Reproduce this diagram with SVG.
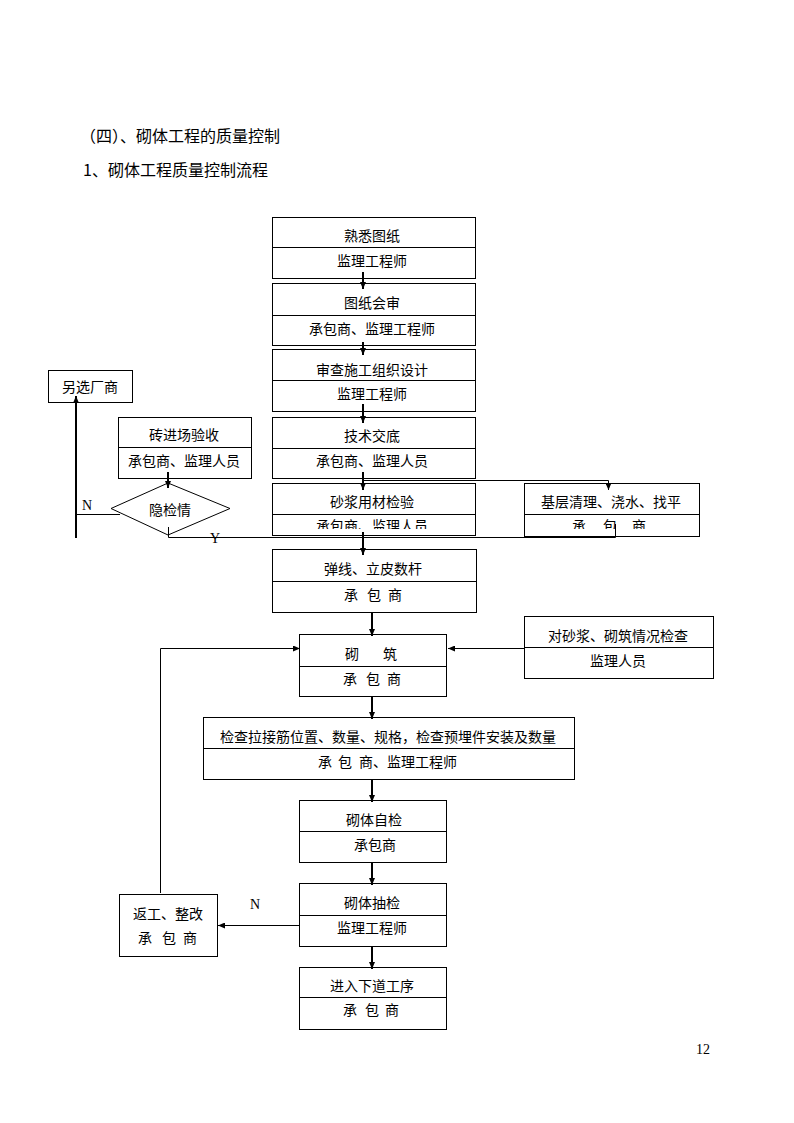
<svg xmlns="http://www.w3.org/2000/svg" width="794" height="1123" viewBox="0 0 794 1123">
<style>
.box{fill:#fff;stroke:#000;stroke-width:1}
.div{stroke:#000;stroke-width:1}
.t{font-family:"Noto Sans CJK SC","Noto Sans CJK JP",sans-serif;font-size:14px;fill:#000}
.m{text-anchor:middle}
.title{font-family:"Noto Sans CJK SC",sans-serif;font-size:16px;fill:#000}
.lat{font-family:"Liberation Serif",serif;font-size:14px;fill:#000}
.c1{fill:none;stroke:#000;stroke-width:1}
.c2{fill:none;stroke:#000;stroke-width:2}
</style>
<defs>
<marker id="a" markerUnits="userSpaceOnUse" markerWidth="7" markerHeight="6" viewBox="0 0 7 6" refX="7" refY="3" orient="auto">
<path d="M0,0 L7,3 L0,6 z" fill="#000"/>
</marker>
<clipPath id="cp5"><rect x="272" y="514" width="203" height="15"/></clipPath>
<clipPath id="cpj"><rect x="524" y="514" width="175" height="15"/></clipPath>
</defs>
<rect width="794" height="1123" fill="#fff"/>
<text class="title" x="80" y="142">（四）、砌体工程的质量控制</text>
<text class="title" x="83" y="176">1、砌体工程质量控制流程</text>
<text class="lat" x="696" y="1054">12</text>

<g id="n1"><rect class="box" x="272.5" y="217.5" width="203" height="61"/><line class="div" x1="272.5" y1="247.5" x2="475.5" y2="247.5"/><text class="t m" x="372" y="241">熟悉图纸</text><text class="t m" x="372" y="266">监理工程师</text></g>
<g id="n2"><rect class="box" x="272.5" y="283.5" width="203" height="62"/><line class="div" x1="272.5" y1="315.5" x2="475.5" y2="315.5"/><text class="t m" x="372" y="308">图纸会审</text><text class="t m" x="372" y="334">承包商、监理工程师</text></g>
<g id="n3"><rect class="box" x="272.5" y="349.5" width="203" height="62"/><line class="div" x1="272.5" y1="380.5" x2="475.5" y2="380.5"/><text class="t m" x="372" y="375">审查施工组织设计</text><text class="t m" x="372" y="399">监理工程师</text></g>
<g id="n4"><rect class="box" x="272.5" y="417.5" width="203" height="61"/><line class="div" x1="272.5" y1="448.5" x2="475.5" y2="448.5"/><text class="t m" x="372" y="441">技术交底</text><text class="t m" x="372" y="466">承包商、监理人员</text></g>
<g id="n5"><rect class="box" x="272.5" y="483.5" width="203" height="52"/><line class="div" x1="272.5" y1="514.5" x2="475.5" y2="514.5"/><text class="t m" x="372" y="507">砂浆用材检验</text><text class="t m" x="372" y="531" clip-path="url(#cp5)">承包商、监理人员</text></g>
<g id="nj"><rect class="box" x="524.5" y="483.5" width="175" height="53"/><line class="div" x1="524.5" y1="514.5" x2="699.5" y2="514.5"/><text class="t m" x="611" y="507">基层清理、浇水、找平</text><text class="t" y="531" clip-path="url(#cpj)"><tspan x="572">承</tspan><tspan x="603">包</tspan><tspan x="632">商</tspan></text></g>
<g id="nb"><rect class="box" x="118.5" y="417.5" width="133" height="61"/><line class="div" x1="118.5" y1="447.5" x2="251.5" y2="447.5"/><text class="t m" x="184" y="440">砖进场验收</text><text class="t m" x="184" y="466">承包商、监理人员</text></g>
<g id="nd"><polygon class="box" points="168,483 230,508.5 168,535 111,508.5"/><text class="t m" x="170" y="515">隐检情</text></g>
<g id="nl"><rect class="box" x="48.5" y="370.5" width="84" height="32"/><text class="t m" x="90" y="392">另选厂商</text></g>
<g id="n6"><rect class="box" x="272.5" y="549.5" width="204" height="63"/><line class="div" x1="272.5" y1="581.5" x2="476.5" y2="581.5"/><text class="t m" x="373" y="574">弹线、立皮数杆</text><text class="t" y="600"><tspan x="344">承</tspan><tspan x="367">包</tspan><tspan x="388">商</tspan></text></g>
<g id="n7"><rect class="box" x="299.5" y="634.5" width="147" height="62"/><line class="div" x1="299.5" y1="666.5" x2="446.5" y2="666.5"/><text class="t" y="659"><tspan x="345">砌</tspan><tspan x="383">筑</tspan></text><text class="t" y="684"><tspan x="343">承</tspan><tspan x="366">包</tspan><tspan x="387">商</tspan></text></g>
<g id="ns"><rect class="box" x="524.5" y="616.5" width="189" height="62"/><line class="div" x1="524.5" y1="647.5" x2="713.5" y2="647.5"/><text class="t m" x="618" y="641">对砂浆、砌筑情况检查</text><text class="t m" x="618" y="666">监理人员</text></g>
<g id="n8"><rect class="box" x="203.5" y="717.5" width="371" height="62"/><line class="div" x1="203.5" y1="748.5" x2="574.5" y2="748.5"/><text class="t m" x="388" y="742">检查拉接筋位置、数量、规格，检查预埋件安装及数量</text><text class="t" y="767"><tspan x="318">承</tspan><tspan x="338">包</tspan><tspan x="359">商、监理工程师</tspan></text></g>
<g id="n9"><rect class="box" x="299.5" y="800.5" width="147" height="62"/><line class="div" x1="299.5" y1="831.5" x2="446.5" y2="831.5"/><text class="t m" x="374" y="825">砌体自检</text><text class="t m" x="375" y="850">承包商</text></g>
<g id="n10"><rect class="box" x="299.5" y="883.5" width="147" height="63"/><line class="div" x1="299.5" y1="915.5" x2="446.5" y2="915.5"/><text class="t m" x="372" y="908">砌体抽检</text><text class="t m" x="372" y="933">监理工程师</text></g>
<g id="n11"><rect class="box" x="299.5" y="967.5" width="147" height="62"/><line class="div" x1="299.5" y1="997.5" x2="446.5" y2="997.5"/><text class="t m" x="372" y="991">进入下道工序</text><text class="t" y="1015"><tspan x="343">承</tspan><tspan x="365">包</tspan><tspan x="385">商</tspan></text></g>
<g id="nr"><rect class="box" x="119.5" y="894.5" width="98" height="62"/><text class="t" x="133" y="919">返工、整改</text><text class="t" y="943"><tspan x="138">承</tspan><tspan x="162">包</tspan><tspan x="183">商</tspan></text></g>

<g id="connectors">
<path class="c2" d="M363,272 V289" marker-end="url(#a)"/>
<path class="c2" d="M363,342 V355" marker-end="url(#a)"/>
<path class="c2" d="M363,404 V423" marker-end="url(#a)"/>
<path class="c2" d="M363,472 V490" marker-end="url(#a)"/>
<path class="c1" d="M363,480.5 H608.5 V490" marker-end="url(#a)"/>
<path class="c2" d="M363,532 V555" marker-end="url(#a)"/>
<path class="c1" d="M168.5,527 V537.5 H615.5 V524"/>
<path class="c2" d="M168,472 V488" marker-end="url(#a)"/>
<path class="c1" d="M120,514.5 H76"/>
<path class="c2" d="M76,538 V396" marker-end="url(#a)"/>
<path class="c2" d="M372,612 V636" marker-end="url(#a)"/>
<path class="c1" d="M524,648.5 H448" marker-end="url(#a)"/>
<path class="c1" d="M160.5,893 V648.5 H300" marker-end="url(#a)"/>
<path class="c2" d="M372,696 V719" marker-end="url(#a)"/>
<path class="c2" d="M372,779 V802" marker-end="url(#a)"/>
<path class="c2" d="M372,862 V885" marker-end="url(#a)"/>
<path class="c1" d="M299,925.5 H218" marker-end="url(#a)"/>
<path class="c2" d="M372,946 V969" marker-end="url(#a)"/>
</g>
<text class="lat" x="82" y="510">N</text>
<text class="lat" x="210" y="543">Y</text>
<text class="lat" x="250" y="909">N</text>
</svg>
